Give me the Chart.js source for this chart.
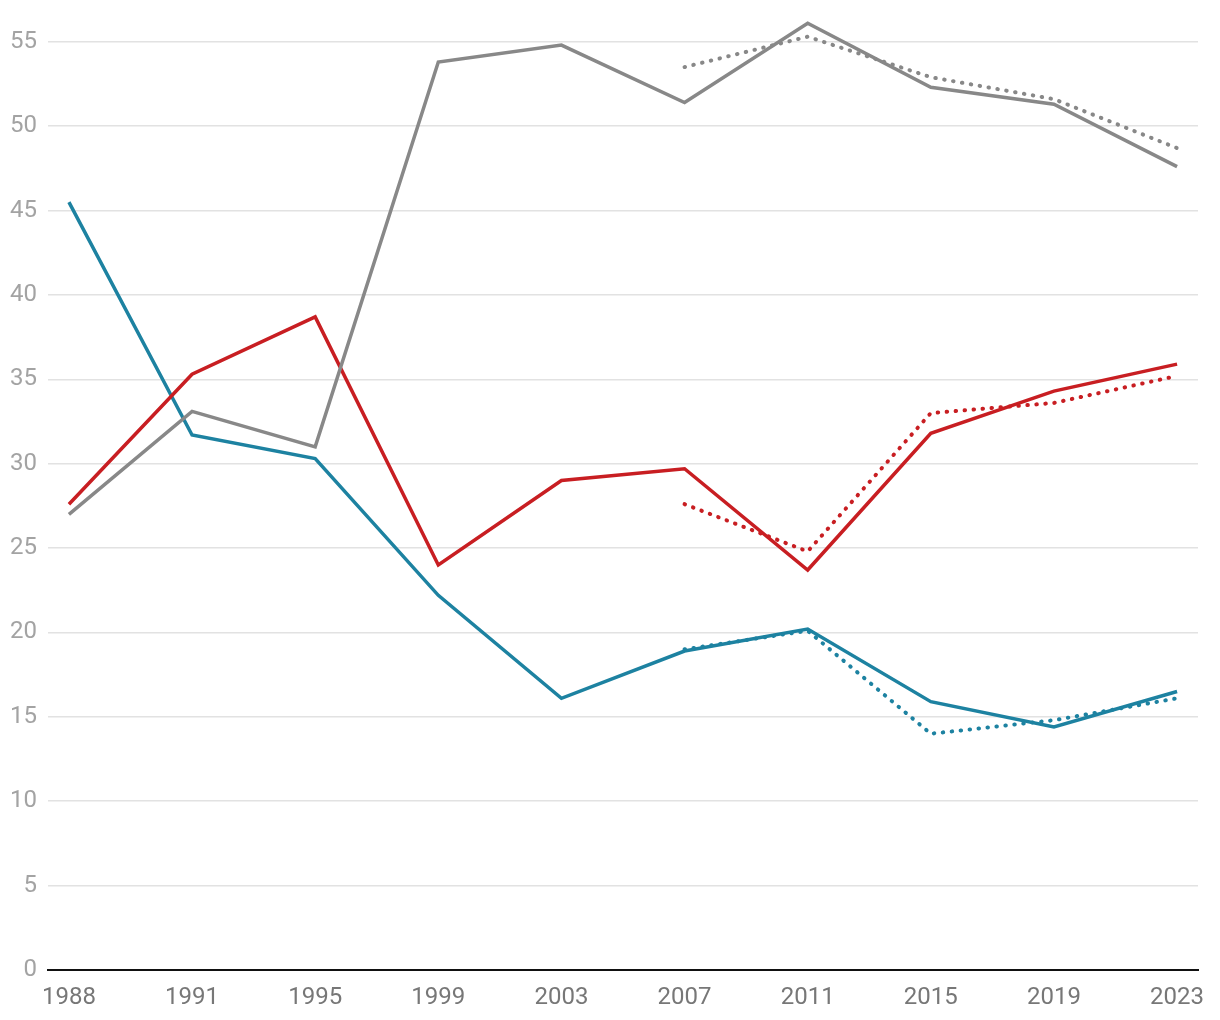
<!DOCTYPE html>
<html>
<head>
<meta charset="utf-8">
<script src="https://cdn.jsdelivr.net/npm/chart.js@4/dist/chart.umd.min.js"></script>
<style>
  html, body { margin: 0; padding: 0; background: #fff; }
  #wrap { width: 1220px; height: 1020px; }
</style>
</head>
<body>
<div id="wrap"><canvas id="lineChart"></canvas></div>
<script>
'use strict';

const years = ['1988', '1991', '1995', '1999', '2003', '2007', '2011', '2015', '2019', '2023'];

const graySolid = [27.0, 33.1, 31.0, 53.8, 54.8, 51.4, 56.1, 52.3, 51.3, 47.6];
const graySurvey = [null, null, null, null, null, 53.5, 55.3, 52.9, 51.6, 48.7];

const redSolid = [27.6, 35.3, 38.7, 24.0, 29.0, 29.7, 23.7, 31.8, 34.3, 35.9];
const redSurvey = [null, null, null, null, null, 27.6, 24.8, 33.0, 33.6, 35.2];

const blueSolid = [45.5, 31.7, 30.3, 22.2, 16.1, 18.9, 20.2, 15.9, 14.4, 16.5];
const blueSurvey = [null, null, null, null, null, 19.0, 20.1, 14.0, 14.8, 16.1];

const yTicks = [0, 5, 10, 15, 20, 25, 30, 35, 40, 45, 50, 55];

function toPoints(values) {
    return values.map(function (v, i) { return {x: i, y: v}; });
}

function solid(values, color) {
    return {
        data: toPoints(values),
        borderColor: color,
        borderWidth: 3.5,
        pointRadius: 0,
        tension: 0,
        fill: false,
        borderJoinStyle: 'miter',
    };
}

function dotted(values, color) {
    return {
        data: toPoints(values),
        borderColor: color,
        borderWidth: 4,
        borderDash: [0.5, 8.5],
        borderCapStyle: 'round',
        pointRadius: 0,
        tension: 0,
        fill: false,
        spanGaps: false,
    };
}

Chart.defaults.font.family = 'Roboto, sans-serif';
Chart.defaults.font.size = 24;

new Chart('lineChart', {
    type: 'line',
    data: {
        datasets: [
            dotted(graySurvey, '#888888'),
            dotted(redSurvey, '#c81e22'),
            dotted(blueSurvey, '#1d82a1'),
            solid(graySolid, '#888888'),
            solid(redSolid, '#c81e22'),
            solid(blueSolid, '#1d82a1'),
        ],
    },
    options: {
        responsive: true,
        maintainAspectRatio: false,
        animation: false,
        layout: {
            padding: {left: 0, right: 22, top: 8, bottom: 0}
        },
        plugins: {
            legend: {display: false},
            tooltip: {enabled: false},
        },
        scales: {
            x: {
                type: 'linear',
                min: -0.17,
                max: 9.17,
                afterBuildTicks: function (scale) {
                    scale.ticks = years.map(function (y, i) { return {value: i}; });
                },
                afterFit: function (scale) {
                    scale.height = 50;
                    scale.paddingLeft = 0;
                    scale.paddingRight = 0;
                },
                ticks: {
                    color: '#777777',
                    padding: 14,
                    maxRotation: 0,
                    autoSkip: false,
                    callback: function (value) { return years[value]; },
                },
                grid: {display: false, drawTicks: false},
                border: {display: true, color: '#111111', width: 2},
            },
            y: {
                min: 0,
                max: 57,
                afterBuildTicks: function (scale) {
                    scale.ticks = yTicks.map(function (v) { return {value: v}; });
                },
                afterFit: function (scale) {
                    scale.width = 48;
                    scale.paddingTop = 0;
                    scale.paddingBottom = 0;
                },
                ticks: {
                    color: '#a3a3a3',
                    padding: 11,
                },
                grid: {color: '#e2e2e2', lineWidth: 1.5, drawTicks: false},
                border: {display: false},
            },
        },
    },
});
</script>
</body>
</html>
